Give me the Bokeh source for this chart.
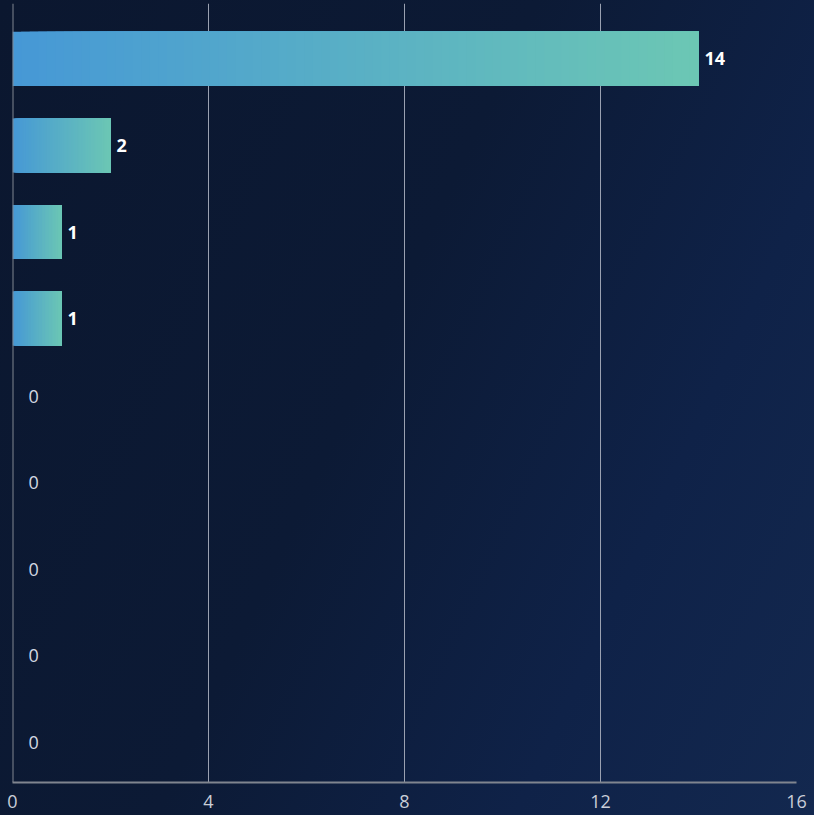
from bokeh.plotting import figure
from bokeh.models import ColumnDataSource, Range1d, Span, FixedTicker, InlineStyleSheet
from bokeh.embed import file_html
from bokeh.resources import INLINE
from bokeh.core.properties import value

# ---- data ----
categories = ["c1", "c2", "c3", "c4", "c5", "c6", "c7", "c8", "c9"]
values = [14, 2, 1, 1, 0, 0, 0, 0, 0]
x_ticks = [0, 4, 8, 12, 16]

# ---- style ----
C_LEFT = (70, 152, 214)
C_RIGHT = (108, 199, 180)
N_SLICES = 80
BAR_H = 0.625
FONT = "Open Sans"

def lerp_color(t):
    r = round(C_LEFT[0] + (C_RIGHT[0] - C_LEFT[0]) * t)
    g = round(C_LEFT[1] + (C_RIGHT[1] - C_LEFT[1]) * t)
    b = round(C_LEFT[2] + (C_RIGHT[2] - C_LEFT[2]) * t)
    return "#%02x%02x%02x" % (r, g, b)

ypos = list(range(len(categories)))

# gradient slices, each from its start to the bar end (drawn in order so later ones cover)
sl = dict(left=[], right=[], y=[], color=[])
for i, v in enumerate(values):
    if v <= 0:
        continue
    for j in range(N_SLICES):
        t = j / N_SLICES
        sl["left"].append(v * t)
        sl["right"].append(v)
        sl["y"].append(ypos[i])
        sl["color"].append(lerp_color(t + 0.5 / N_SLICES))
slice_src = ColumnDataSource(sl)

pos_src = ColumnDataSource(dict(
    x=[v for v in values if v > 0],
    y=[ypos[i] for i, v in enumerate(values) if v > 0],
    t=[str(v) for v in values if v > 0],
))
zero_src = ColumnDataSource(dict(
    x=[v for v in values if v == 0],
    y=[ypos[i] for i, v in enumerate(values) if v == 0],
    t=[str(v) for v in values if v == 0],
))

p = figure(width=814, height=815, output_backend="svg", toolbar_location=None,
           x_range=Range1d(0, 16), y_range=Range1d(8.36, -0.64),
           min_border_left=12, min_border_right=18, min_border_top=3, min_border_bottom=33)

p.background_fill_alpha = 0
p.border_fill_alpha = 0
p.outline_line_color = None
p.stylesheets = [InlineStyleSheet(css=":host { background: linear-gradient(115deg, #0b172f 0%, #0c1a35 45%, #0f2248 75%, #13284f 100%); }")]

p.hbar(y="y", left="left", right="right", height=BAR_H, fill_color="color",
       line_color=None, source=slice_src)

p.text(x="x", y="y", text="t", source=pos_src, x_offset=6, text_align="left",
       text_baseline="middle", text_color="#ffffff", text_font=value(FONT),
       text_font_size="18px", text_font_style="bold")
p.text(x="x", y="y", text="t", source=zero_src, x_offset=16, y_offset=-9,
       text_align="left", text_baseline="middle", text_color="#d2d8e2",
       text_font=value(FONT), text_font_size="18px")

p.yaxis.visible = False
p.ygrid.visible = False
p.add_layout(Span(location=0, dimension="height", line_color="#80858f", line_width=2))

p.xaxis.ticker = FixedTicker(ticks=x_ticks)
p.xaxis.axis_line_color = "#80858f"
p.xaxis.axis_line_width = 2
p.xaxis.major_tick_line_color = None
p.xaxis.minor_tick_line_color = None
p.xaxis.major_tick_out = 0
p.xaxis.major_label_standoff = 12
p.xaxis.major_label_text_color = "#c9ced8"
p.xaxis.major_label_text_font = FONT
p.xaxis.major_label_text_font_size = "18px"

p.xgrid.ticker = FixedTicker(ticks=x_ticks)
p.xgrid.grid_line_color = "#9aa1b1"
p.xgrid.grid_line_width = 1

html = file_html(p, INLINE)
html = html.replace("</head>", "<style>html,body{margin:0;padding:0;overflow:hidden;background:#0c1a35;}</style></head>", 1)
open("out.html", "w").write(html)
